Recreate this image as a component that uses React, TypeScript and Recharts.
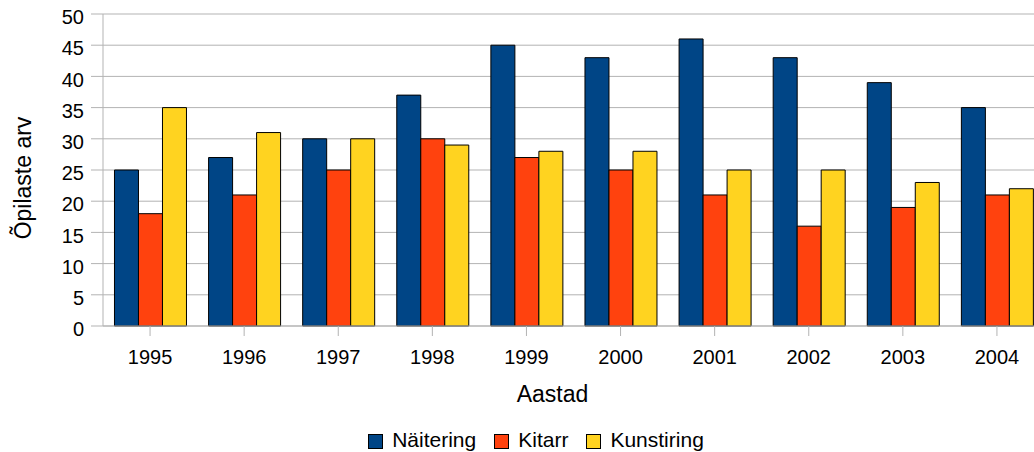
import React from "react";
import { Bar, BarChart, CartesianGrid, Legend, XAxis, YAxis } from "recharts";

const years = ["1995", "1996", "1997", "1998", "1999", "2000", "2001", "2002", "2003", "2004"];
const naitering = [25, 27, 30, 37, 45, 43, 46, 43, 39, 35];
const kitarr = [18, 21, 25, 30, 27, 25, 21, 16, 19, 21];
const kunstiring = [35, 31, 30, 29, 28, 28, 25, 25, 23, 22];
const yTicks = [0, 5, 10, 15, 20, 25, 30, 35, 40, 45, 50];

const series = [
  { key: "naitering", name: "Näitering", color: "#004586" },
  { key: "kitarr", name: "Kitarr", color: "#ff420e" },
  { key: "kunstiring", name: "Kunstiring", color: "#ffd320" },
];

const data = years.map((year, i) => ({
  year,
  naitering: naitering[i],
  kitarr: kitarr[i],
  kunstiring: kunstiring[i],
}));

const FONT = '"Liberation Sans", Arial, sans-serif';
const GRID = "#b3b3b3";

const LegendBox = () => (
  <div style={ { height: 30, display: "flex", justifyContent: "center", alignItems: "center", paddingLeft: 20, fontFamily: FONT, fontSize: 21, lineHeight: "22px", color: "#000" } }>
    { series.map((s) => (
      <div key={ s.key } style={ { display: "flex", alignItems: "center", margin: "0 9px" } }>
        <span style={ { width: 13, height: 13, background: s.color, border: "1px solid #000", marginRight: 9, marginTop: 2 } }/>
        <span>{ s.name }</span>
      </div>
    )) }
  </div>
);

const XLabel = ({ viewBox }: any) => (
  <text x={ viewBox.x + viewBox.width / 2 - 21 } y={ viewBox.y + 76 } textAnchor="middle" fontSize={ 23 } fontFamily={ FONT } fill="#000">
    Aastad
  </text>
);

const YLabel = () => (
  <text x={ 23 } y={ 178 } transform="rotate(-90 23 178)" textAnchor="middle" dominantBaseline="central" fontSize={ 23 } fontFamily={ FONT } fill="#000">
    Õpilaste arv
  </text>
);

// page sized box so the chart may run past the right edge, like the source
const App = () => (
  <div style={ { position: "fixed", left: 0, top: 0, width: 1034, height: 452, overflow: "hidden", background: "#fff" } }>
    <style>{ "html,body{margin:0;overflow:hidden}" }</style>
    <BarChart
      width={ 1048 }
      height={ 455 }
      data={ data }
      margin={ { top: 14, right: 4, left: 8, bottom: 0 } }
      barCategoryGap="12.2%"
      barGap={ 0 }
    >
      <CartesianGrid vertical={ false } stroke={ GRID }/>
      <XAxis
        dataKey="year"
        height={ 99 }
        interval={ 0 }
        tickSize={ 10 }
        tickMargin={ 14 }
        axisLine={ { stroke: GRID } }
        tickLine={ { stroke: GRID } }
        tick={ { fill: "#000", fontSize: 20, fontFamily: FONT } }
        label={ <XLabel/> }
      />
      <YAxis
        width={ 95 }
        domain={ [0, 50] }
        ticks={ yTicks }
        interval={ 0 }
        tickSize={ 12 }
        tickMargin={ 7 }
        axisLine={ { stroke: GRID } }
        tickLine={ { stroke: GRID } }
        tick={ { fill: "#000", fontSize: 20, fontFamily: FONT, dy: 3 } }
        label={ <YLabel/> }
      />
      <Legend verticalAlign="bottom" content={ <LegendBox/> }/>
      { series.map((s) => (
        <Bar key={ s.key } dataKey={ s.key } name={ s.name } fill={ s.color } stroke="#000" strokeWidth={ 1 } isAnimationActive={ false }/>
      )) }
    </BarChart>
  </div>
);

export default App;
